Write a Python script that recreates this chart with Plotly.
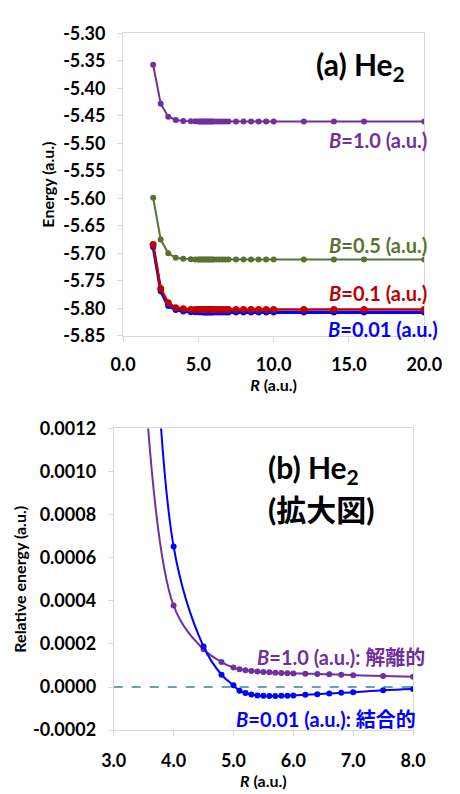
import plotly.graph_objects as go

# ---------------- data ----------------
R_top = [2.0, 2.5, 3.0, 3.5, 4.0, 4.5, 4.8, 5.0, 5.1, 5.2, 5.3, 5.4, 5.5, 5.6, 5.7, 5.8, 5.9,
         6.0, 6.2, 6.4, 6.6, 6.8, 7.0, 7.5, 8.0, 8.5, 9.0, 9.5, 10.0, 12.0, 14.0, 16.0, 20.0]

E_B100 = [-5.357, -5.428, -5.4515, -5.4575, -5.4595, -5.4600, -5.4600, -5.4601, -5.4601, -5.4601,
          -5.4601, -5.4601, -5.4601, -5.4601, -5.4601, -5.4601, -5.4601, -5.4601, -5.4601, -5.4601,
          -5.4601, -5.4601, -5.4601, -5.4601, -5.4601, -5.4601, -5.4601, -5.4601, -5.4601, -5.4601,
          -5.4601, -5.4601, -5.4601]
E_B050 = [-5.599, -5.675, -5.700, -5.708, -5.710, -5.711, -5.7112, -5.7113, -5.7113, -5.7113,
          -5.7113, -5.7113, -5.7113, -5.7113, -5.7113, -5.7113, -5.7113, -5.7113, -5.7113, -5.7113,
          -5.7113, -5.7113, -5.7113, -5.7113, -5.7113, -5.7113, -5.7113, -5.7113, -5.7113, -5.7113,
          -5.7113, -5.7113, -5.7113]
E_B010 = [-5.684, -5.764, -5.790, -5.799, -5.801, -5.802, -5.8022, -5.8023, -5.8023, -5.8023,
          -5.8023, -5.8023, -5.8023, -5.8023, -5.8023, -5.8023, -5.8023, -5.8023, -5.8023, -5.8023,
          -5.8023, -5.8023, -5.8023, -5.8023, -5.8023, -5.8023, -5.8023, -5.8023, -5.8023, -5.8023,
          -5.8023, -5.8023, -5.8023]
E_B001 = [-5.689, -5.769, -5.796, -5.803, -5.806, -5.807, -5.8072, -5.8073, -5.8074, -5.8074,
          -5.8075, -5.8075, -5.8075, -5.8075, -5.8075, -5.8075, -5.8075, -5.8075, -5.8075, -5.8075,
          -5.8075, -5.8075, -5.8075, -5.8075, -5.8075, -5.8075, -5.8075, -5.8075, -5.8075, -5.8075,
          -5.8075, -5.8075, -5.8075]

R_bot = [3.5, 4.0, 4.5, 4.8, 5.0, 5.1, 5.2, 5.3, 5.4, 5.5, 5.6, 5.7, 5.8, 5.9, 6.0,
         6.2, 6.4, 6.6, 6.8, 7.0, 7.5, 8.0]
rel_B100 = [0.00150, 0.000378, 0.000175, 0.000116, 0.000090, 0.000083, 0.000078, 0.000074,
            0.000072, 0.000070, 0.000068, 0.000066, 0.000065, 0.000064, 0.000063,
            0.000062, 0.000060, 0.000059, 0.000057, 0.000055, 0.000051, 0.000048]
rel_B001 = [0.0031, 0.000652, 0.000188, 0.000057, 0.0000077, -0.000017, -0.000028, -0.000035,
            -0.000039, -0.000041, -0.000042, -0.000042, -0.000041, -0.000040, -0.000039,
            -0.000036, -0.000033, -0.000030, -0.000027, -0.000024, -0.000015, -0.000009]

ticks_top_x = [0, 5, 10, 15, 20]
ticks_top_y = [-5.30, -5.35, -5.40, -5.45, -5.50, -5.55, -5.60, -5.65, -5.70, -5.75, -5.80, -5.85]
ticks_bot_x = [3, 4, 5, 6, 7, 8]
ticks_bot_y = [0.0012, 0.0010, 0.0008, 0.0006, 0.0004, 0.0002, 0.0000, -0.0002]

PURPLE = "#7030A0"
GREEN = "#5A7231"
RED = "#C00000"
BLUE = "#0000FF"
FONT = "Lato, 'Noto Sans CJK JP', sans-serif"

fig = go.Figure()

def add(x, y, color, xa, ya, shape="linear", width=2, msize=6):
    fig.add_trace(go.Scatter(x=x, y=y, mode="lines+markers", xaxis=xa, yaxis=ya,
                             line=dict(color=color, width=width, shape=shape),
                             marker=dict(color=color, size=msize), showlegend=False))

add(R_top, E_B001, BLUE, "x", "y", width=3, msize=6)
add(R_top, E_B010, RED, "x", "y", width=2.5, msize=7)
add(R_top, E_B050, GREEN, "x", "y")
add(R_top, E_B100, PURPLE, "x", "y")

# dashed zero line in panel (b)
fig.add_trace(go.Scatter(x=[3, 8], y=[0, 0], mode="lines", xaxis="x2", yaxis="y2",
                         line=dict(color="#31859C", width=1.3, dash="dash"), showlegend=False))
add(R_bot, rel_B100, PURPLE, "x2", "y2", shape="spline", msize=6)
add(R_bot, rel_B001, BLUE, "x2", "y2", shape="spline", msize=6)

axis_common = dict(showgrid=False, zeroline=False, showline=True, linecolor="#D9D9D9",
                   linewidth=1, mirror=True, ticks="outside", tickcolor="#D9D9D9", ticklen=5,
                   tickfont=dict(family=FONT, size=18, color="black", weight="bold"))
title_font = dict(family=FONT, size=16, color="black")

fig.update_layout(
    width=460, height=794, margin=dict(l=0, r=0, t=0, b=0),
    paper_bgcolor="white", plot_bgcolor="white",
    xaxis=dict(domain=[0.2565, 0.9587], range=[0, 20], tickvals=ticks_top_x,
               ticktext=[f"{v:.1f}" for v in ticks_top_x], anchor="y",
               ticklabelstandoff=8,
               title=dict(text="<b><i>R</i> (a.u.)</b>", font=title_font, standoff=0),
               **axis_common),
    yaxis=dict(domain=[0.5806, 0.9723], range=[-5.85, -5.30], tickvals=ticks_top_y,
               ticktext=[f"{v:.2f}" for v in ticks_top_y], anchor="x",
               ticklabelstandoff=8,
               title=dict(text="<b>Energy (a.u.)</b>", font=title_font, standoff=4),
               **axis_common),
    xaxis2=dict(domain=[0.2348, 0.9326], range=[3, 8], tickvals=ticks_bot_x,
                ticktext=[f"{v:.1f}" for v in ticks_bot_x], anchor="y2",
                ticklabelstandoff=9,
                title=dict(text="<b><i>R</i> (a.u.)</b>", font=title_font, standoff=0),
                **axis_common),
    yaxis2=dict(domain=[0.0698, 0.4606], range=[-0.0002, 0.0012], tickvals=ticks_bot_y,
                ticktext=[f"{v:.4f}" for v in ticks_bot_y], anchor="x2",
                ticklabelstandoff=8,
                title=dict(text="<b>Relative energy (a.u.)</b>", font=title_font, standoff=2),
                **axis_common),
)

def note(text, x, y, color, size, xanchor="right", align="right"):
    fig.add_annotation(text=text, x=x / 460, y=1 - y / 794, xref="paper", yref="paper",
                       xanchor=xanchor, yanchor="middle", showarrow=False, align=align,
                       font=dict(family=FONT, size=size, color=color, weight="bold"))

note("(a) He<sub>2</sub>", 423, 56, "black", 30)
note("<i>B</i>=1.0 (a.u.)", 446, 132, PURPLE, 20)
note("<i>B</i>=0.5 (a.u.)", 446, 240, GREEN, 20)
note("<i>B</i>=0.1 (a.u.)", 446, 289, RED, 20)
note("<i>B</i>=0.01 (a.u.)", 458, 326, BLUE, 20)

note("(b) He<sub>2</sub>", 271, 470, "black", 30, xanchor="left", align="left")
note("(拡大図)", 271, 511, "black", 30, xanchor="left", align="left")
note("<i>B</i>=1.0 (a.u.): 解離的", 259, 663, PURPLE, 20, xanchor="left", align="left")
note("<i>B</i>=0.01 (a.u.): 結合的", 237, 727, BLUE, 20, xanchor="left", align="left")

fig.write_html("out.html")
